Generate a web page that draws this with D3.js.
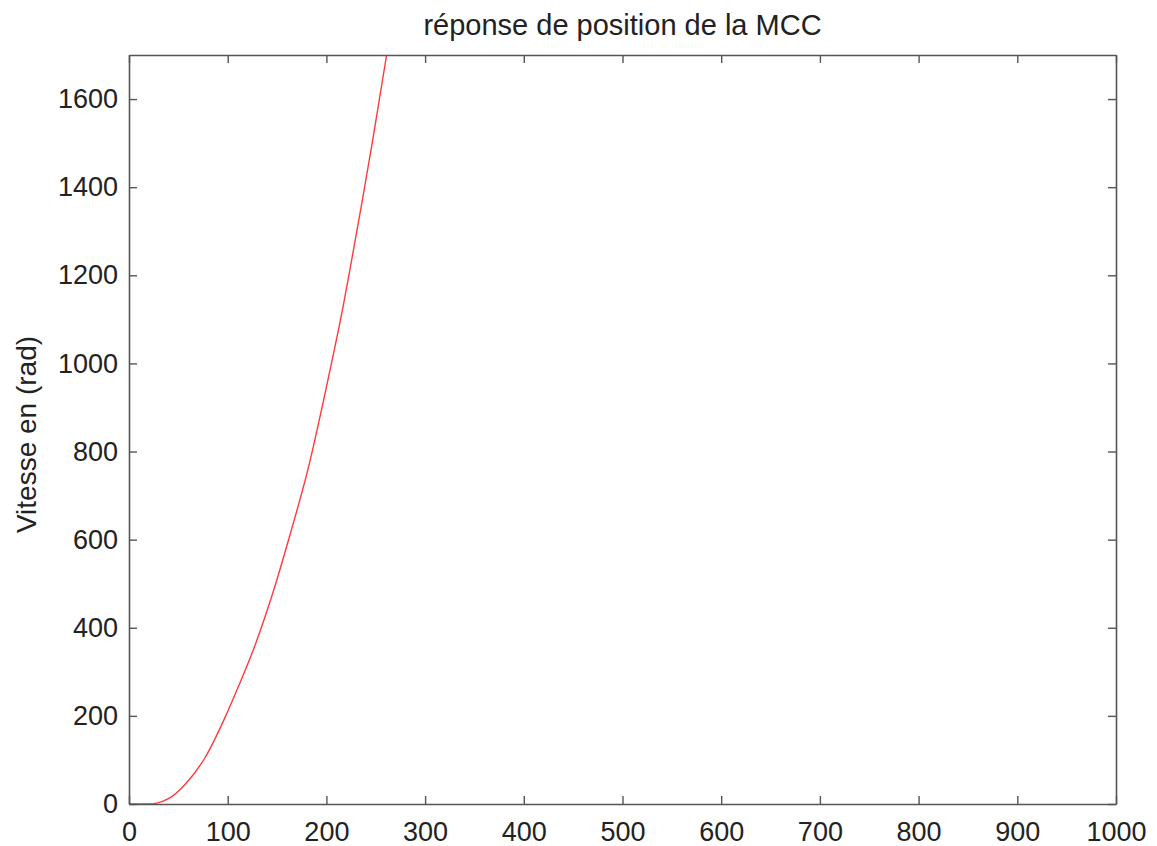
<!DOCTYPE html>
<html>
<head>
<meta charset="utf-8">
<script src="https://cdn.jsdelivr.net/npm/d3@7"></script>
<style>
  body { margin: 0; background: #fff; }
  text { font-family: "Liberation Sans", Arial, sans-serif; fill: #222; }
</style>
</head>
<body>
<div class="chart"></div>
<script>
// position response
const timeValues = [0, 10, 20, 28, 40, 57, 77, 97, 110, 128, 143, 163, 183, 197, 207, 217, 224, 236, 246, 253, 261];
const posValues  = [0, 0, 0, 2, 12, 45, 105, 195, 262, 362, 460, 610, 775, 915, 1020, 1130, 1215, 1365, 1495, 1590, 1700];
const xTicks = [0, 100, 200, 300, 400, 500, 600, 700, 800, 900, 1000];
const yTicks = [0, 200, 400, 600, 800, 1000, 1200, 1400, 1600];
const titleText = "réponse de position de la MCC";
const yLabelText = "Vitesse en (rad)";

const width = 1157, height = 846;
const margin = { top: 55, right: 41, bottom: 42, left: 129 };
const tickLen = 8;

const data = timeValues.map((t, i) => ({ t: t, v: posValues[i] }));

const svg = d3.select(".chart").append("svg")
    .attr("width", width)
    .attr("height", height);

const x = d3.scaleLinear()
    .domain([0, 1000])
    .range([margin.left, width - margin.right]);

const y = d3.scaleLinear()
    .domain([0, 1700])
    .range([height - margin.bottom, margin.top]);

svg.append("clipPath")
    .attr("id", "plotclip")
    .append("rect")
    .attr("x", margin.left)
    .attr("y", margin.top)
    .attr("width", x.range()[1] - margin.left)
    .attr("height", y.range()[0] - margin.top);

// curve
svg.append("path")
    .datum(data)
    .attr("clip-path", "url(#plotclip)")
    .attr("fill", "none")
    .attr("stroke", "#ff3a3a")
    .attr("stroke-width", 1.4)
    .attr("d", d3.line()
        .x(d => x(d.t))
        .y(d => y(d.v))
        .curve(d3.curveMonotoneX));

// axes: box with inward ticks on all sides
const axisColor = "#555";
function styleAxis(g) {
    g.select(".domain").attr("stroke", axisColor).attr("stroke-width", 1.6);
    g.selectAll(".tick line").attr("stroke", axisColor).attr("stroke-width", 1.4);
    g.selectAll(".tick text")
        .style("font-size", "27px")
        .style("font-family", "'Liberation Sans', Arial, sans-serif")
        .attr("fill", "#222");
}

svg.append("g")
    .attr("transform", `translate(0,${y(0)})`)
    .call(d3.axisBottom(x).tickValues(xTicks).tickFormat(d3.format("d"))
        .tickSizeInner(-tickLen).tickSizeOuter(0).tickPadding(8))
    .call(styleAxis)
    .call(g => g.selectAll(".tick text").attr("dy", "0.71em").attr("y", 18));

svg.append("g")
    .attr("transform", `translate(0,${y(1700)})`)
    .call(d3.axisTop(x).tickValues(xTicks).tickFormat("")
        .tickSizeInner(-tickLen).tickSizeOuter(0))
    .call(styleAxis);

svg.append("g")
    .attr("transform", `translate(${x(0)},0)`)
    .call(d3.axisLeft(y).tickValues(yTicks).tickFormat(d3.format("d"))
        .tickSizeInner(-tickLen).tickSizeOuter(0))
    .call(styleAxis)
    .call(g => g.selectAll(".tick text").attr("x", -11));

svg.append("g")
    .attr("transform", `translate(${x(1000)},0)`)
    .call(d3.axisRight(y).tickValues(yTicks).tickFormat("")
        .tickSizeInner(-tickLen).tickSizeOuter(0))
    .call(styleAxis);

// title
svg.append("text")
    .attr("x", (x.range()[0] + x.range()[1]) / 2)
    .attr("y", 35)
    .attr("text-anchor", "middle")
    .style("font-size", "29px")
    .text(titleText);

// y label
svg.append("text")
    .attr("transform", `translate(36,${(y.range()[0] + y.range()[1]) / 2 + 5}) rotate(-90)`)
    .attr("text-anchor", "middle")
    .style("font-size", "28px")
    .text(yLabelText);
</script>
</body>
</html>
